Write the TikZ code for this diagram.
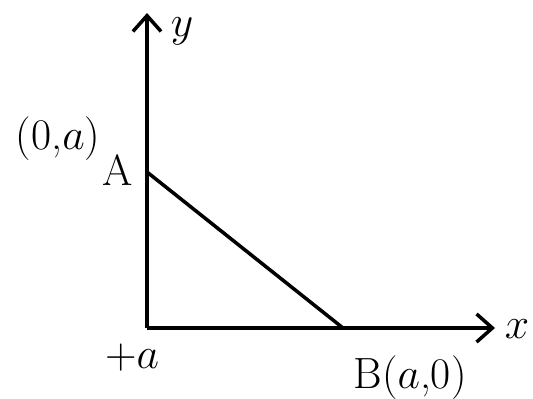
\documentclass[tikz,border=0pt]{standalone}
\usetikzlibrary{arrows.meta}
\begin{document}
\begin{tikzpicture}[font=\Huge, line width=2pt,
    axis/.style={-{Straight Barb[length=9pt, width=16pt, line width=2pt]}}]
        \useasboundingbox (0,0) rectangle (10.66,7.96);
        % axes
        \coordinate (O) at (2.94,1.40);
        \coordinate (ytip) at (2.94,7.70);
        \coordinate (xtip) at (9.90,1.40);
        \draw[axis] (O) -- (ytip);
        \draw[axis] (O) -- (xtip);
        \node (ylab) at (3.64,7.34) {$y$};
        \node (xlab) at (10.34,1.38) {$x$};
        % intercepts and the line through them
        \coordinate (A) at (2.94,4.52);
        \coordinate (B) at (6.86,1.40);
        \draw (A) -- (B);
        \node (Alab) at (2.36,4.56) {A};
        \node (Acoord) at (1.16,5.18) {(0,$a$)};
        \node (Olab) at (2.64,0.80) {$+a$};
        \node (Blab) at (8.20,0.40) {B($a$,0)};
    \end{tikzpicture}
\end{document}
